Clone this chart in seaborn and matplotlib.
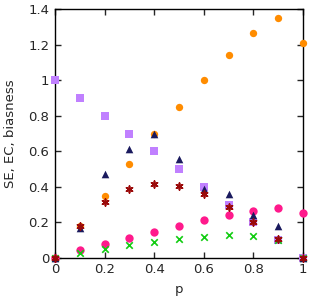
import numpy as np
import pandas as pd
import matplotlib
matplotlib.use("Agg")
import matplotlib.pyplot as plt
from matplotlib.ticker import FormatStrFormatter
import seaborn as sns

p = [0.0, 0.1, 0.2, 0.3, 0.4, 0.5, 0.6, 0.7, 0.8, 0.9, 1.0]

# values
purple_sq = [1.0, 0.9, 0.8, 0.7, 0.6, 0.5, 0.4, 0.3, 0.2, 0.1, 0.0]
orange_dot = [0.0, 0.18, 0.35, 0.527, 0.70, 0.852, 1.0, 1.143, 1.264, 1.35, 1.21]
pink_dot = [0.0, 0.042, 0.078, 0.112, 0.147, 0.179, 0.211, 0.239, 0.265, 0.28, 0.254]
green_x = [0.0, 0.025, 0.05, 0.072, 0.091, 0.106, 0.117, 0.127, 0.125, 0.1, 0.0]
navy_tri = [0.0, 0.166, 0.474, 0.613, 0.70, 0.557, 0.386, 0.36, 0.241, 0.179, 0.0]
red_star = [0.0, 0.181, 0.313, 0.388, 0.418, 0.403, 0.358, 0.284, 0.20, 0.104, 0.0]

sns.set_style("ticks")
plt.rcParams['font.family'] = ['DejaVu Sans']

fig = plt.figure(figsize=(3.14, 2.98), dpi=100)
ax = fig.add_axes([0.175, 0.135, 0.79, 0.834])

# series: values, color, marker, size, filled
series = [
    (purple_sq, "#c080ff", "s", 34, True),
    (orange_dot, "#ff8c00", "o", 28, True),
    (pink_dot, "#ff1a8c", "o", 36, True),
    (green_x, "#11cc11", "x", 22, False),
    (navy_tri, "#1a1a5e", "^", 30, True),
    (red_star, "#9b0a0a", (6, 2, 0), 24, False),
]

for vals, col, mk, size, filled in series:
    df = pd.DataFrame({"p": p, "v": vals})
    if filled:
        sns.scatterplot(data=df, x="p", y="v", ax=ax, color=col, marker=mk,
                        s=size, linewidth=0, clip_on=False, zorder=3)
    else:
        sns.scatterplot(data=df, x="p", y="v", ax=ax, color=col, marker=mk,
                        s=size, linewidth=1.2, clip_on=False, zorder=3)

ax.set_xlim(0, 1)
ax.set_ylim(0, 1.4)
ax.set_xticks(np.arange(0, 1.01, 0.2))
ax.set_yticks(np.arange(0, 1.41, 0.2))
ax.xaxis.set_major_formatter(FormatStrFormatter('%g'))
ax.yaxis.set_major_formatter(FormatStrFormatter('%g'))
ax.tick_params(direction="in", length=4, width=1, labelsize=9.5,
               top=True, right=True, pad=4)
for s in ax.spines.values():
    s.set_linewidth(1)
    s.set_color("black")

ax.set_xlabel("p", fontsize=9.5, labelpad=5)
ax.set_ylabel("SE, EC, biasness", fontsize=9.5, labelpad=8)

fig.savefig("out.png", dpi=100)
